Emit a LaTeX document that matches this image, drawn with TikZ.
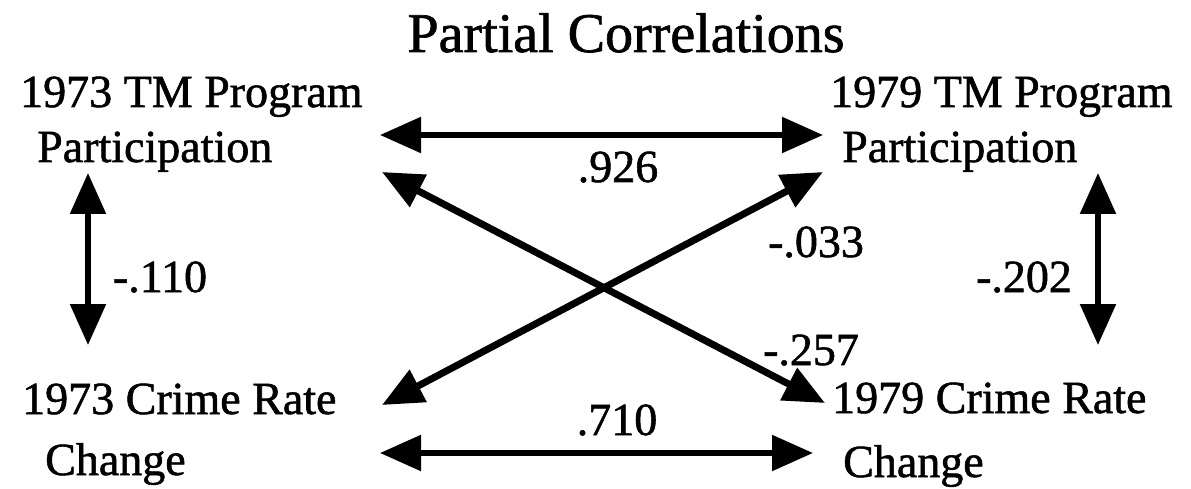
\documentclass[tikz,border=0pt]{standalone}
\usepackage{fontspec}
\setmainfont{Liberation Serif}[FakeBold=1.2]
\usetikzlibrary{arrows.meta}
\begin{document}
\begin{tikzpicture}[x=1pt,y=-1pt,
  lbl/.style={anchor=base west,inner sep=0pt,font=\fontsize{46}{50}\selectfont},
  num/.style={anchor=base,inner sep=0pt,font=\fontsize{46}{50}\selectfont},
  tip/.tip={Triangle[length=41pt,width=35pt]},
  link/.style={line width=5.5pt,tip-tip},
  diag/.style={line width=7pt,tip-tip}]
\useasboundingbox (0,0) rectangle (1191,489);
% title
\node[anchor=base,inner sep=0pt,font=\fontsize{56}{60}\selectfont] (title) at (626,52) {Partial Correlations};
% variable labels
\node[lbl] (t73a) at (20,107) {1973 TM Program};
\node[lbl] (t73b) at (37,162) {Participation};
\node[lbl] (c73a) at (22,414) {1973 Crime Rate};
\node[lbl] (c73b) at (45,475) {Change};
\node[lbl] (t79a) at (830,107) {1979 TM Program};
\node[lbl] (t79b) at (842,162) {Participation};
\node[lbl] (c79a) at (832,413) {1979 Crime Rate};
\node[lbl] (c79b) at (843,477) {Change};
% arrow end points
\coordinate (tlE) at (380,135);
\coordinate (trW) at (823,135);
\coordinate (blE) at (380,453);
\coordinate (brW) at (813,453);
\coordinate (tlD) at (382,172);
\coordinate (brD) at (825,403);
\coordinate (blD) at (382,405);
\coordinate (trD) at (823,172);
\coordinate (lvT) at (88,173);
\coordinate (lvB) at (88,345);
\coordinate (rvT) at (1098,173);
\coordinate (rvB) at (1098,345);
% connectors
\draw[link] (tlE) -- (trW);
\draw[link] (blE) -- (brW);
\draw[diag] (tlD) -- (brD);
\draw[diag] (blD) -- (trD);
\draw[link] (lvT) -- (lvB);
\draw[link] (rvT) -- (rvB);
% coefficients
\node[num] (n926) at (618,182) {.926};
\node[num] (n710) at (617,435) {.710};
\node[num] (n110) at (160,292) {-.110};
\node[num] (n202) at (1024,292) {-.202};
\node[num] (n033) at (816,257) {-.033};
\node[num] (n257) at (811,365) {-.257};
\end{tikzpicture}
\end{document}
